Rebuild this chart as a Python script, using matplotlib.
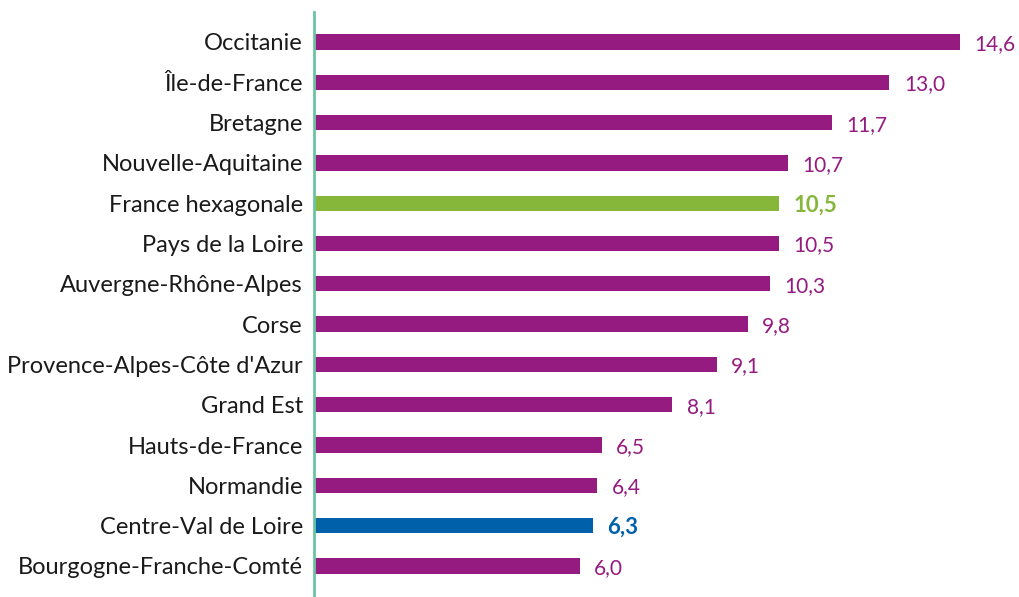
import matplotlib.pyplot as plt

regions = [
    "Occitanie", "Île-de-France", "Bretagne", "Nouvelle-Aquitaine",
    "France hexagonale", "Pays de la Loire", "Auvergne-Rhône-Alpes", "Corse",
    "Provence-Alpes-Côte d'Azur", "Grand Est", "Hauts-de-France", "Normandie",
    "Centre-Val de Loire", "Bourgogne-Franche-Comté",
]
values = [14.6, 13.0, 11.7, 10.7, 10.5, 10.5, 10.3, 9.8, 9.1, 8.1, 6.5, 6.4, 6.3, 6.0]

PURPLE = "#951b81"
GREEN = "#86b73a"
BLUE = "#0061aa"
highlight = {"France hexagonale": GREEN, "Centre-Val de Loire": BLUE}

plt.rcParams["font.family"] = ["Lato", "DejaVu Sans"]

fig = plt.figure(figsize=(10.19, 5.97), dpi=100)
ax = fig.add_axes([314 / 1019, 0, 1 - 314 / 1019, 1 - 12 / 597])

ypos = list(range(len(regions)))
colors = [highlight.get(r, PURPLE) for r in regions]
ax.barh(ypos, values, height=0.38, color=colors)

# value labels at the bar ends, bold for the highlighted rows
for y, v, r, c in zip(ypos, values, regions, colors):
    bold = r in highlight
    ax.text(v + 0.33, y + 0.05, f"{v:.1f}".replace(".", ","), va="center", ha="left",
            color=c, fontsize=16 if bold else 15, fontweight="bold" if bold else "normal")

ax.set_yticks(ypos)
ax.set_yticklabels(regions, fontsize=17, color="#1a1a1a")
ax.tick_params(axis="y", length=0, pad=8)
ax.set_xticks([])
ax.set_xlim(0, 15.93)
ax.set_ylim(13.77, -0.744)

for s in ["top", "right", "bottom"]:
    ax.spines[s].set_visible(False)
ax.spines["left"].set_color("#6cc4a4")
ax.spines["left"].set_linewidth(2)

fig.savefig("out.png", dpi=100)
